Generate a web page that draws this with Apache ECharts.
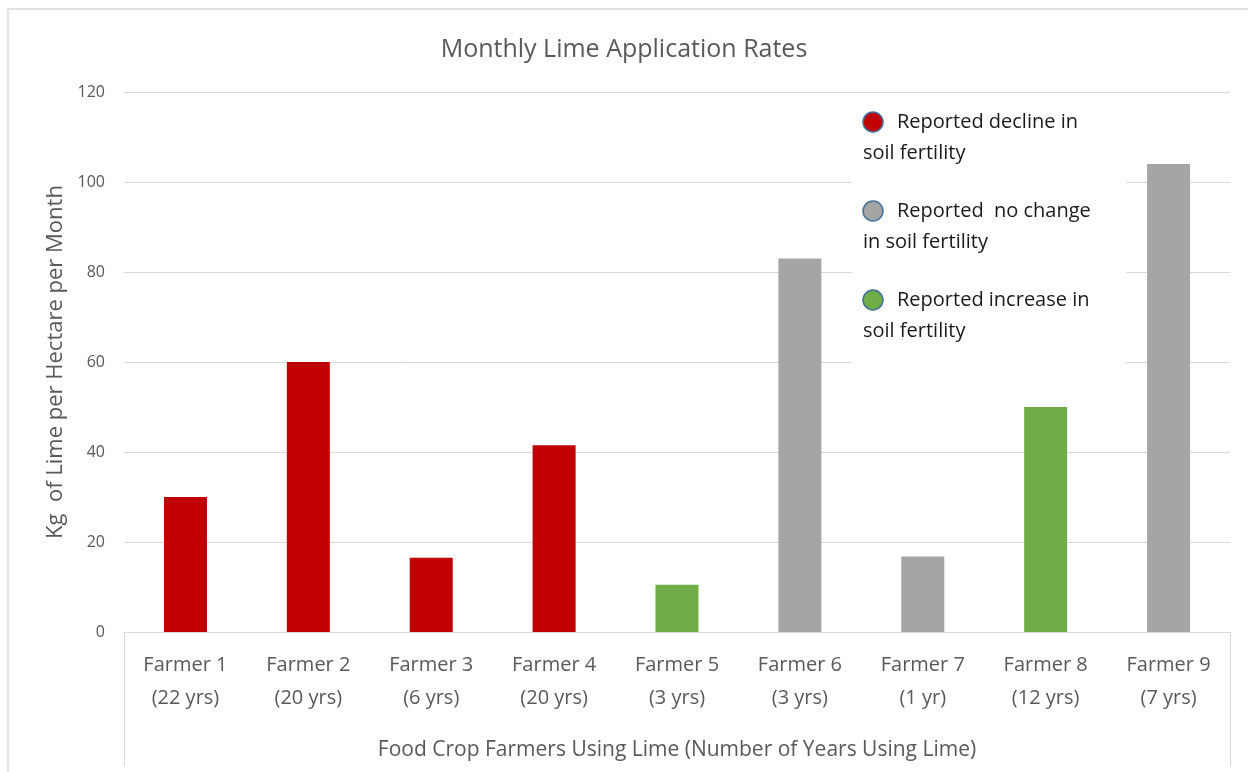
<!DOCTYPE html>
<html>
<head>
<meta charset="utf-8">
<script src="https://cdn.jsdelivr.net/npm/echarts@6/dist/echarts.min.js"></script>
<style>
    html, body { margin: 0; padding: 0; background: #fff; }
    #chart { width: 1248px; height: 772px; }
</style>
</head>
<body>
<div id="chart"></div>
<script>
    // farmers, years of lime use and monthly lime rate (kg/ha)
    var farmers = ['Farmer 1', 'Farmer 2', 'Farmer 3', 'Farmer 4', 'Farmer 5', 'Farmer 6', 'Farmer 7', 'Farmer 8', 'Farmer 9'];
    var yearsUsing = ['22 yrs', '20 yrs', '6 yrs', '20 yrs', '3 yrs', '3 yrs', '1 yr', '12 yrs', '7 yrs'];
    var limeRate = [30, 60, 16.5, 41.5, 10.5, 83, 16.8, 50, 104];
    // reported soil fertility: 0 decline, 1 no change, 2 increase
    var fertility = [0, 0, 0, 0, 2, 1, 1, 2, 1];
    var groupFirst = ['Reported decline in', 'Reported  no change', 'Reported increase in'];
    var groupSecond = ['soil fertility', 'in soil fertility', 'soil fertility'];
    var groupColors = ['#C00000', '#A5A5A5', '#70AD47'];
    var yTicks = [0, 20, 40, 60, 80, 100, 120];

    var font = '"Open Sans", "Noto Sans", sans-serif';
    var grey = '#595959';

    var chart = echarts.init(document.getElementById('chart'));

    // one series per fertility group, stacked so each farmer keeps one bar
    var series = groupFirst.map(function (name, g) {
        return {
            name: name + ' ' + groupSecond[g],
            type: 'bar',
            stack: 'all',
            barWidth: '35%',
            itemStyle: { color: groupColors[g] },
            data: limeRate.map(function (v, i) { return fertility[i] === g ? v : null; })
        };
    });

    // hand made legend (icon sits on the first text line like the original)
    var legendItems = [];
    legendItems.push({
        type: 'rect', shape: { x: 852, y: 100, width: 274, height: 268 },
        style: { fill: '#fff' }, z: 10
    });
    groupFirst.forEach(function (name, g) {
        var y = 122 + g * 89;
        legendItems.push({
            type: 'circle', shape: { cx: 873, cy: y, r: 10 },
            style: { fill: groupColors[g], stroke: '#41719C', lineWidth: 1.5 }, z: 11
        });
        legendItems.push({
            type: 'text', x: 897, y: y, z: 11,
            style: { text: name, fill: '#1a1a1a', font: '20px ' + font, textVerticalAlign: 'middle' }
        });
        legendItems.push({
            type: 'text', x: 863, y: y + 31, z: 11,
            style: { text: groupSecond[g], fill: '#1a1a1a', font: '20px ' + font, textVerticalAlign: 'middle' }
        });
    });

    chart.setOption({
        animation: false,
        title: {
            text: 'Monthly Lime Application Rates',
            left: 'center',
            top: 32,
            textStyle: { color: grey, fontSize: 25, fontWeight: 'normal', fontFamily: font }
        },
        grid: { left: 124, right: 18, top: 92, bottom: 140 },
        xAxis: {
            type: 'category',
            data: farmers,
            name: 'Food Crop Farmers Using Lime (Number of Years Using Lime)',
            nameLocation: 'middle',
            nameGap: 108,
            nameTextStyle: { color: grey, fontSize: 21, fontFamily: font },
            axisLine: { lineStyle: { color: '#D9D9D9' } },
            axisTick: { show: false },
            axisLabel: {
                color: grey, fontSize: 20, fontFamily: font, lineHeight: 33, margin: 17,
                formatter: function (v, i) { return v + '\n(' + yearsUsing[i] + ')'; }
            }
        },
        yAxis: {
            type: 'value',
            min: yTicks[0],
            max: yTicks[yTicks.length - 1],
            interval: 20,
            name: 'Kg  of Lime per Hectare per Month',
            nameLocation: 'middle',
            nameGap: 57,
            nameTextStyle: { color: grey, fontSize: 22, fontFamily: font },
            axisLine: { show: false },
            axisTick: { show: false },
            axisLabel: { color: grey, fontSize: 16, fontFamily: font, margin: 19 },
            splitLine: { lineStyle: { color: '#D9D9D9' } }
        },
        series: series,
        graphic: legendItems.concat([
            // chart border and the category frame lines
            { type: 'polyline', shape: { points: [[8, 772], [8, 9], [1248, 9]] }, style: { stroke: '#D9D9D9', fill: null, lineWidth: 1.5 } },
            { type: 'line', shape: { x1: 124.5, y1: 632, x2: 124.5, y2: 766 }, style: { stroke: '#D9D9D9', lineWidth: 1 } },
            { type: 'line', shape: { x1: 1230.5, y1: 632, x2: 1230.5, y2: 766 }, style: { stroke: '#D9D9D9', lineWidth: 1 } }
        ])
    });
</script>
</body>
</html>
